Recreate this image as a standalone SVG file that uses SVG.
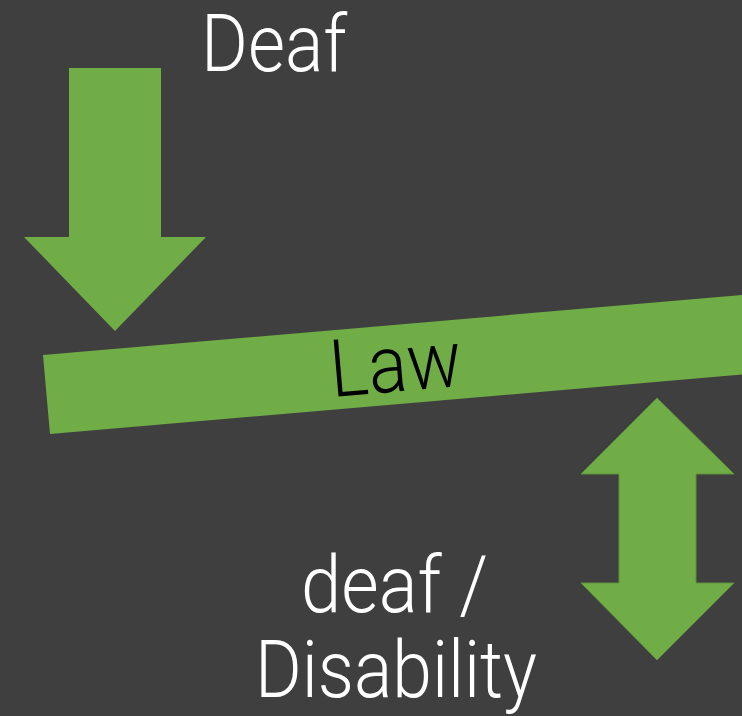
<svg xmlns="http://www.w3.org/2000/svg" width="742" height="716" viewBox="0 0 742 716">
<style>
.shape{fill:#70ad47}
.outl{stroke:#5e8f3c;stroke-width:1}
.lbl{font-family:Roboto,"Liberation Sans",sans-serif;font-weight:300;font-size:80px;fill:#ffffff}
.dark{fill:#000000}
</style>
<rect x="0" y="0" width="742" height="716" fill="#3f3f3f"/>
<g id="deaf-arrow">
<polygon class="shape" points="69,68 161,68 161,237 206,237 115,331 24,237 69,237"/>
</g>
<g id="law-bar">
<polygon class="shape" points="43,355 800,290 807,369 50,434"/>
<text class="lbl dark" x="332" y="397" textLength="132" lengthAdjust="spacingAndGlyphs" transform="rotate(-4.9 332 397)">Law</text>
</g>
<g id="double-arrow">
<polygon class="shape outl" points="657,398 734,474 696,474 696,583 734,583 657,660 581,583 619,583 619,474 581,474"/>
</g>
<g id="labels">
<text id="deaf-label" class="lbl" x="201" y="71" textLength="146" lengthAdjust="spacingAndGlyphs">Deaf</text>
<g id="deaf-disability-label">
<text class="lbl" x="301" y="612" textLength="187" lengthAdjust="spacingAndGlyphs">deaf /</text>
<text class="lbl" x="255" y="697" textLength="282" lengthAdjust="spacingAndGlyphs">Disability</text>
</g>
</g>
<g id="connectors"></g>
</svg>
